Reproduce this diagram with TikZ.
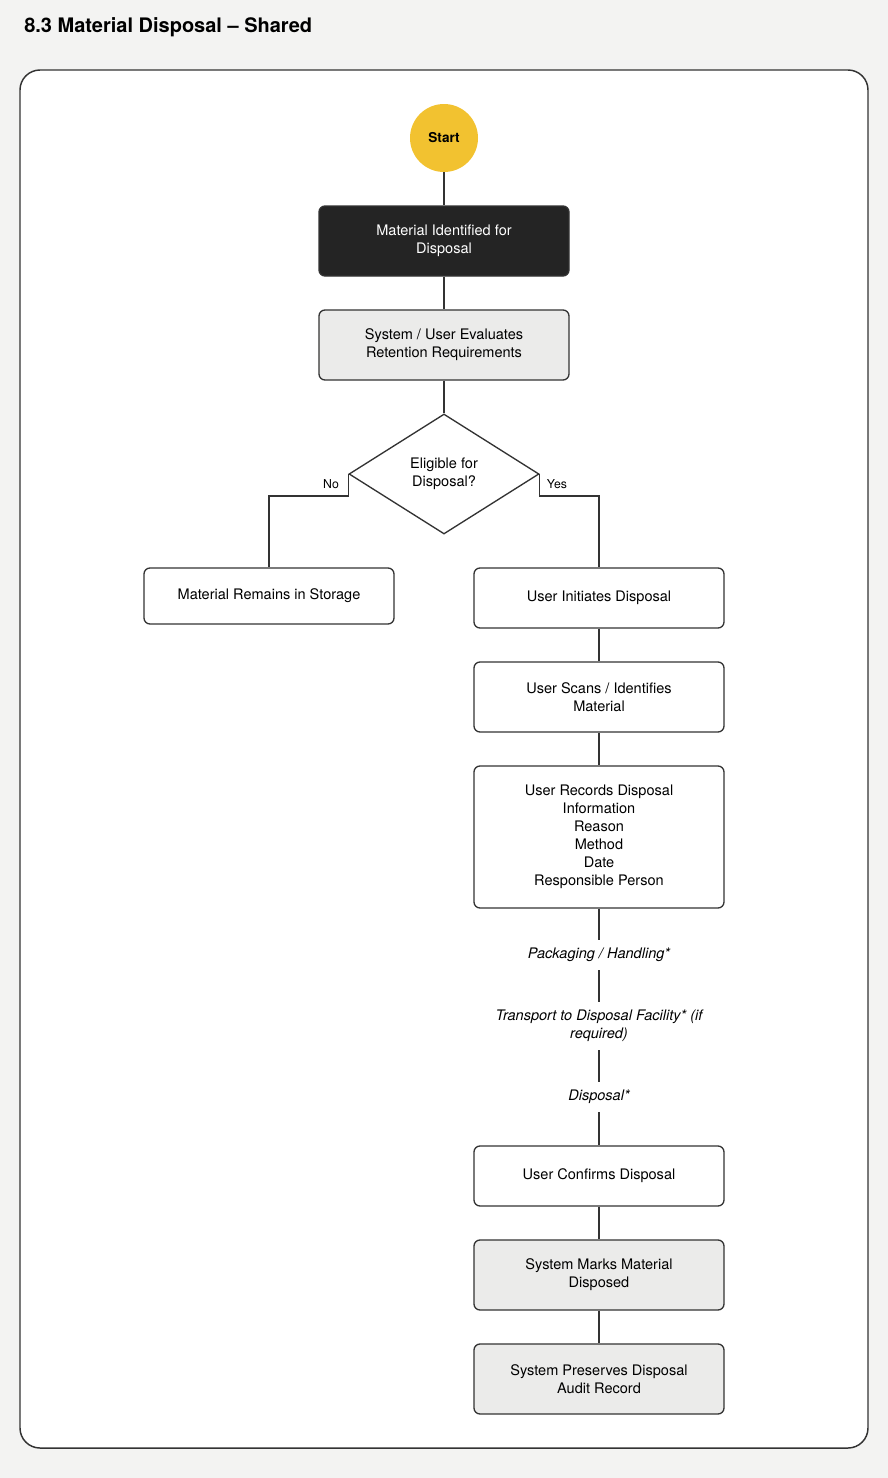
\documentclass[tikz,border=0pt]{standalone}
\usepackage{fontspec}
\setmainfont{TeX Gyre Heros}
\usetikzlibrary{shapes.geometric}
\definecolor{bgc}{HTML}{F3F3F2}
\definecolor{linec}{HTML}{333333}
\definecolor{darkc}{HTML}{242424}
\definecolor{grayc}{HTML}{EBEBEA}
\definecolor{yellowc}{HTML}{F2C230}
\tikzset{
  pbox/.style={draw=linec, line width=1pt, rounded corners=4.5pt, minimum width=187.5pt, inner sep=0pt, align=center, font=\fontsize{10.9}{13.5}\selectfont, text=black, fill=white},
  darkbox/.style={pbox, fill=darkc, text=white},
  graybox/.style={pbox, fill=grayc},
  decis/.style={diamond, draw=linec, line width=1pt, minimum width=142.5pt, minimum height=90pt, inner sep=0pt, align=center, font=\fontsize{10.9}{13.5}\selectfont, fill=white},
  startc/.style={circle, fill=yellowc, minimum size=51pt, inner sep=0pt, font=\bfseries\fontsize{10.2}{12}\selectfont},
  steplabel/.style={inner xsep=2pt, inner ysep=6pt, align=center, font=\itshape\fontsize{10.9}{13.5}\selectfont},
  brlabel/.style={inner sep=0pt, font=\fontsize{9.2}{11}\selectfont},
  conn/.style={draw=linec, line width=1pt},
}
\begin{document}
\begin{tikzpicture}[x=0.75pt,y=-0.75pt]
\useasboundingbox[fill=bgc] (0,0) rectangle (888,1478);
\node[anchor=base west, inner sep=0pt, font=\bfseries\fontsize{15}{17}\selectfont] (title) at (24,32) {8.3 Material Disposal – Shared};
\draw[draw=linec, line width=1.1pt, fill=white, rounded corners=15pt] (20,70) rectangle (868,1448);

\node[startc] (start) at (444,138) {Start};
\node[darkbox, minimum height=52.5pt] (ident) at (444,241) {Material Identified for\\Disposal};
\node[graybox, minimum height=52.5pt] (eval) at (444,345) {System / User Evaluates\\Retention Requirements};
\node[decis] (dec) at (444,474) {Eligible for\\Disposal?};
\node[pbox, minimum height=42pt] (remain) at (269,596) {Material Remains in Storage};
\node[pbox, minimum height=45pt] (init) at (599,598) {User Initiates Disposal};
\node[pbox, minimum height=52.5pt] (scan) at (599,697) {User Scans / Identifies\\Material};
\node[pbox, minimum height=106.5pt] (rec) at (599,837) {User Records Disposal\\Information\\Reason\\Method\\Date\\Responsible Person};
\node[steplabel] (pack) at (599,955) {Packaging / Handling*};
\node[steplabel] (trans) at (599,1026) {Transport to Disposal Facility* (if\\required)};
\node[steplabel] (disp) at (599,1097) {Disposal*};
\node[pbox, minimum height=45pt] (conf) at (599,1176) {User Confirms Disposal};
\node[graybox, minimum height=52.5pt] (mark) at (599,1275) {System Marks Material\\Disposed};
\node[graybox, minimum height=52.5pt] (pres) at (599,1379) {System Preserves Disposal\\Audit Record};

\draw[conn] (start) -- (ident);
\draw[conn] (ident) -- (eval);
\draw[conn] (eval) -- (dec);
\draw[conn] (dec.west) -- ++(0,22) -| (remain.north);
\draw[conn] (dec.east) -- ++(0,22) -| (init.north);
\draw[conn] (init) -- (scan);
\draw[conn] (scan) -- (rec);
\draw[conn] (rec) -- (pack);
\draw[conn] (pack) -- (trans);
\draw[conn] (trans) -- (disp);
\draw[conn] (disp) -- (conf);
\draw[conn] (conf) -- (mark);
\draw[conn] (mark) -- (pres);

\node[brlabel] (nolab) at (331,484) {No};
\node[brlabel] (yeslab) at (557,484) {Yes};
\end{tikzpicture}
\end{document}
